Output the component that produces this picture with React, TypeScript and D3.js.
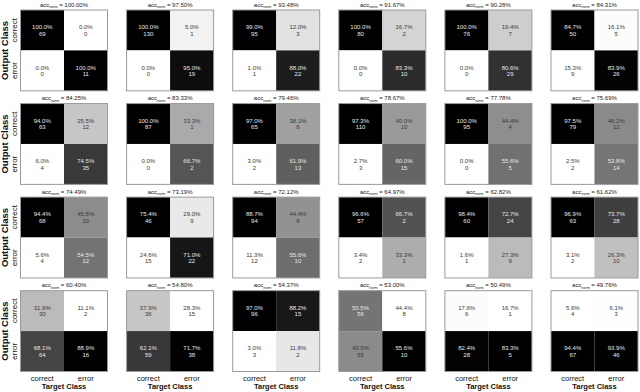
import React from "react";
import * as d3 from "d3";

// Normalised accuracy, one per panel (row-major, 4 rows x 6 columns)
const accNorm = [
  "100.00", "97.50", "93.48", "91.67", "90.28", "84.31",
  "84.25", "83.33", "79.46", "78.67", "77.78", "75.69",
  "74.49", "73.19", "72.12", "64.97", "62.82", "61.62",
  "60.40", "54.80", "54.37", "53.00", "50.49", "49.76",
];

// Cell percentages: [correct/correct, correct/error, error/correct, error/error]
const percents = [
  [100.0, 0.0, 0.0, 100.0], [100.0, 5.0, 0.0, 95.0], [99.0, 12.0, 1.0, 88.0],
  [100.0, 16.7, 0.0, 83.3], [100.0, 19.4, 0.0, 80.6], [84.7, 16.1, 15.3, 83.9],
  [94.0, 25.5, 6.0, 74.5], [100.0, 33.3, 0.0, 66.7], [97.0, 38.1, 3.0, 61.9],
  [97.3, 40.0, 2.7, 60.0], [100.0, 44.4, 0.0, 55.6], [97.5, 46.2, 2.5, 53.8],
  [94.4, 45.5, 5.6, 54.5], [75.4, 29.0, 24.6, 71.0], [88.7, 44.4, 11.3, 55.6],
  [96.6, 66.7, 3.4, 33.3], [98.4, 72.7, 1.6, 27.3], [96.9, 73.7, 3.1, 26.3],
  [31.9, 11.1, 68.1, 88.9], [37.9, 28.3, 62.1, 71.7], [97.0, 88.2, 3.0, 11.8],
  [50.5, 44.4, 49.5, 55.6], [17.6, 16.7, 82.4, 83.3], [5.6, 6.1, 94.4, 93.9],
];

// Cell counts, same order
const counts = [
  [69, 0, 0, 11], [130, 1, 0, 19], [95, 3, 1, 22],
  [80, 2, 0, 10], [76, 7, 0, 29], [50, 5, 9, 26],
  [63, 12, 4, 35], [87, 1, 0, 2], [65, 8, 2, 13],
  [110, 10, 3, 15], [95, 4, 0, 5], [79, 12, 2, 14],
  [68, 10, 4, 12], [46, 9, 15, 22], [94, 8, 12, 10],
  [57, 2, 2, 1], [60, 24, 1, 9], [63, 28, 2, 10],
  [30, 2, 64, 16], [36, 15, 59, 38], [96, 15, 3, 2],
  [56, 8, 55, 10], [6, 1, 28, 5], [4, 3, 67, 46],
];

const classes = ["correct", "error"];
const nCols = 6;
const nRows = 4;

const FONT = "'Liberation Sans', Arial, Helvetica, sans-serif";

export default function App() {
  const width = 640;
  const height = 392;

  const px = d3.scaleBand<number>()
    .domain(d3.range(nCols))
    .range([20.5, 638])
    .paddingInner(0.18)
    .paddingOuter(0);

  const py = d3.scaleBand<number>()
    .domain(d3.range(nRows))
    .range([10, 371.5])
    .paddingInner(0.136)
    .paddingOuter(0);

  const cx = d3.scaleBand<string>().domain(classes).range([0, px.bandwidth()]);
  const cy = d3.scaleBand<string>().domain(classes).range([0, py.bandwidth()]);

  const lastRowY = py(nRows - 1)! + py.bandwidth();

  return (
    <svg
      width={width}
      height={height}
      style={{ position: "absolute", left: 0, top: 0, background: "#fff" }}
      fontFamily={FONT}
    >
      {percents.map((p, i) => {
        const col = i % nCols;
        const row = Math.floor(i / nCols);
        const x0 = px(col)!;
        const y0 = py(row)!;
        // grey level scaled between the panel's min and max
        const t = d3.scaleLinear()
          .domain([d3.min(p)!, d3.max(p)!])
          .range([0, 1]);
        return (
          <g key={i} transform={`translate(${x0},${y0})`}>
            {p.map((v, k) => {
              const r = classes[Math.floor(k / 2)];
              const c = classes[k % 2];
              const tv = t(v);
              const fill = d3.interpolateRgb("#ffffff", "#000000")(tv);
              const txt = tv >= 0.5 ? "#e8e8e8" : "#3a3a3a";
              const x = cx(c)!;
              const y = cy(r)!;
              return (
                <g key={k}>
                  <rect x={x} y={y} width={cx.bandwidth()} height={cy.bandwidth()} fill={fill} />
                  <text
                    x={x + cx.bandwidth() / 2}
                    y={y + cy.bandwidth() / 2 - 1}
                    textAnchor="middle"
                    fontSize={6}
                    fill={txt}
                  >
                    {v.toFixed(1)}%
                  </text>
                  <text
                    x={x + cx.bandwidth() / 2}
                    y={y + cy.bandwidth() / 2 + 5.5}
                    textAnchor="middle"
                    fontSize={6}
                    fill={txt}
                  >
                    {counts[i][k]}
                  </text>
                </g>
              );
            })}
            <rect
              x={0}
              y={0}
              width={px.bandwidth()}
              height={py.bandwidth()}
              fill="none"
              stroke="#9a9a9a"
              strokeWidth={1}
            />
            {/* title */}
            <text
              x={px.bandwidth() / 2}
              y={-3.5}
              textAnchor="middle"
              fontSize={6}
              fill="#222"
            >
              acc
              <tspan fontSize={3.6} dy={1.8}>norm</tspan>
              <tspan dy={-1.8}> = {accNorm[i]}%</tspan>
            </text>
          </g>
        );
      })}

      {/* y axis labels (first column) */}
      {d3.range(nRows).map((row) => (
        <g key={`yl${row}`}>
          {classes.map((c) => {
            const yc = py(row)! + cy(c)! + cy.bandwidth() / 2;
            return (
              <text
                key={c}
                transform={`translate(16.5,${yc}) rotate(-90)`}
                textAnchor="middle"
                fontSize={8}
                fill="#111"
              >
                {c}
              </text>
            );
          })}
          <text
            transform={`translate(8,${py(row)! + py.bandwidth() / 2}) rotate(-90)`}
            textAnchor="middle"
            fontSize={9.5}
            fontWeight="bold"
            fill="#111"
          >
            Output Class
          </text>
        </g>
      ))}

      {/* x axis labels (last row) */}
      {d3.range(nCols).map((col) => (
        <g key={`xl${col}`}>
          {classes.map((c) => (
            <text
              key={c}
              x={px(col)! + cx(c)! + cx.bandwidth() / 2}
              y={lastRowY + 9}
              textAnchor="middle"
              fontSize={7.5}
              fill="#111"
            >
              {c}
            </text>
          ))}
          <text
            x={px(col)! + px.bandwidth() / 2}
            y={lastRowY + 17}
            textAnchor="middle"
            fontSize={7.5}
            fontWeight="bold"
            fill="#111"
          >
            Target Class
          </text>
        </g>
      ))}
    </svg>
  );
}
